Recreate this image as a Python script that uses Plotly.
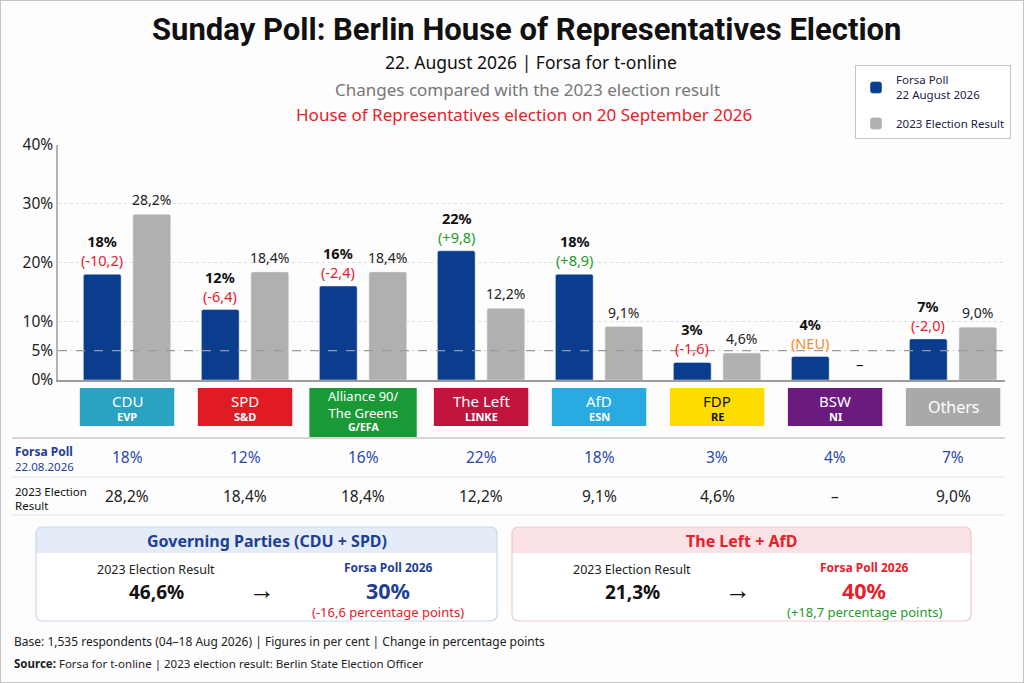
import plotly.graph_objects as go

W, H = 1024, 683

# data
parties = ["CDU", "SPD", "Alliance 90/<br>The Greens", "The Left", "AfD", "FDP", "BSW", "Others"]
eu_groups = ["EVP", "S&D", "G/EFA", "LINKE", "ESN", "RE", "NI", ""]
party_colors = ["#29a3bf", "#e01b24", "#1a9937", "#c0143f", "#29abe2", "#ffdc00", "#6b1a7e", "#a9a9a9"]
label_colors = ["white", "white", "white", "white", "white", "#111111", "white", "white"]
poll_2026 = [18, 12, 16, 22, 18, 3, 4, 7]
result_2023 = [28.2, 18.4, 18.4, 12.2, 9.1, 4.6, None, 9.0]
y_ticks = [0, 5, 10, 20, 30, 40]

BLUE = "#0b3d8f"
GREY = "#b0b0b0"
RED = "#e8202a"
GREEN = "#1f9a2e"
ORANGE = "#f28c28"
NAVY = "#1f3f94"
FONT = "Noto Sans"


def px(x):
    return x / W


def py(y):
    return 1 - y / H


def de(v):
    return f"{v:.1f}".replace(".", ",")


def rrect(x0, y0, x1, y1, r, top_only=False):
    # rounded rectangle in pixel coords -> svg path in paper coords
    rb = 0 if top_only else r
    pts = [
        ("M", [(x0 + r, y0)]),
        ("L", [(x1 - r, y0)]),
        ("Q", [(x1, y0), (x1, y0 + r)]),
        ("L", [(x1, y1 - rb)]),
        ("Q", [(x1, y1), (x1 - rb, y1)]),
        ("L", [(x0 + rb, y1)]),
        ("Q", [(x0, y1), (x0, y1 - rb)]),
        ("L", [(x0, y0 + r)]),
        ("Q", [(x0, y0), (x0 + r, y0)]),
    ]
    s = ""
    for cmd, ps in pts:
        s += cmd + " ".join(f"{px(a):.5f},{py(b):.5f}" for a, b in ps) + " "
    return s + "Z"


xs = list(range(len(parties)))

fig = go.Figure()
fig.add_trace(go.Bar(x=xs, y=poll_2026, width=0.32, offset=-0.37, marker_color=BLUE,
                     name="Forsa Poll<br>22 August 2026", legendgroup="a"))
fig.add_trace(go.Bar(x=xs, y=result_2023, width=0.32, offset=0.05, marker_color=GREY,
                     name="2023 Election Result", legendgroup="b"))

ann = []


def note(text, x, y, size, color="#222222", xanchor="center", yanchor="middle",
         xref="paper", yref="paper", family=FONT, **kw):
    ann.append(dict(text=text, x=x, y=y, xref=xref, yref=yref, showarrow=False,
                    xanchor=xanchor, yanchor=yanchor,
                    font=dict(size=size, color=color, family=family), **kw))


# titles
note("<b>Sunday Poll: Berlin House of Representatives Election</b>", px(527), py(30), 31,
     "#111111", family="Roboto")
note("22. August 2026 | Forsa for t-online", px(531), py(62), 17.5, "#111111")
note("Changes compared with the 2023 election result", px(527), py(89), 17, "#777777")
note("House of Representatives election on 20 September 2026", px(524), py(115), 17, RED)

shapes = []

# bar labels
for i in xs:
    p = poll_2026[i]
    r = result_2023[i]
    if r is None:
        chg, col = "(NEU)", ORANGE
    else:
        d = round(p - r, 1)
        chg = ("(+" if d > 0 else "(") + de(d) + ")"
        col = GREEN if d > 0 else RED
    note(f"<b>{p}%</b><br><span style='color:{col}'>{chg}</span>", i - 0.21, p, 14.5,
         "#111111", yanchor="bottom", xref="x", yref="y", yshift=2)
    if r is None:
        note("–", i + 0.21, 0, 15, "#111111", yanchor="bottom", xref="x", yref="y", yshift=4)
    else:
        note(de(r) + "%", i + 0.21, r, 14, "#222222", yanchor="bottom", xref="x", yref="y", yshift=3)

# party boxes under the axis
for i in xs:
    multi = "<br>" in parties[i]
    half = 0.455 if multi else 0.4
    bottom = 437 if multi else 426
    shapes.append(dict(type="rect", xref="x", yref="paper", x0=i - half, x1=i + half,
                       y0=py(bottom), y1=py(388), fillcolor=party_colors[i], line_width=0,
                       layer="above"))
    if not eu_groups[i]:
        note(parties[i], i, py(407), 16, label_colors[i], xref="x")
    elif multi:
        note(parties[i], i, py(404), 13, label_colors[i], xref="x")
        note(f"<b>{eu_groups[i]}</b>", i, py(427), 10.5, label_colors[i], xref="x")
    else:
        note(parties[i], i, py(401), 15, label_colors[i], xref="x")
        note(f"<b>{eu_groups[i]}</b>", i, py(416), 11, label_colors[i], xref="x")

# table rows
note("<b>Forsa Poll</b>", px(13), py(451), 12, NAVY, xanchor="left")
note("22.08.2026", px(13), py(466), 11.5, NAVY, xanchor="left")
note("2023 Election", px(13), py(491), 11.5, "#111111", xanchor="left")
note("Result", px(13), py(505), 11.5, "#111111", xanchor="left")
for i in xs:
    note(f"{poll_2026[i]}%", i, py(457), 15.5, "#2b4aa8", xref="x")
    r = result_2023[i]
    note("–" if r is None else de(r) + "%", i, py(496), 15.5, "#222222", xref="x")
for yy, c, w in [(438, "#c8c8c8", 1.5), (477, "#e6e6e6", 1), (515, "#e6e6e6", 1)]:
    shapes.append(dict(type="line", xref="paper", yref="paper", x0=px(12), x1=px(1005),
                       y0=py(yy), y1=py(yy), line=dict(color=c, width=w)))

# coalition summary boxes
combos = [
    dict(title="Governing Parties (CDU + SPD)", idx=[0, 1], x0=36, x1=497,
         band="#e4edf7", border="#c9d7ea", tcol=NAVY, pcol=NAVY),
    dict(title="The Left + AfD", idx=[3, 4], x0=512, x1=971,
         band="#fbe2e5", border="#f3c9cf", tcol=RED, pcol=RED),
]
for c in combos:
    old = round(sum(result_2023[k] for k in c["idx"]), 1)
    new = sum(poll_2026[k] for k in c["idx"])
    d = round(new - old, 1)
    x0, x1 = c["x0"], c["x1"]
    shapes.append(dict(type="path", path=rrect(x0, 527, x1, 621, 7), xref="paper", yref="paper",
                       fillcolor="white", line_width=0))
    shapes.append(dict(type="path", path=rrect(x0, 527, x1, 553, 7, top_only=True),
                       xref="paper", yref="paper", fillcolor=c["band"], line_width=0))
    shapes.append(dict(type="path", path=rrect(x0, 527, x1, 621, 7), xref="paper", yref="paper",
                       line=dict(color=c["border"], width=1.2)))
    note(f"<b>{c['title']}</b>", px((x0 + x1) / 2), py(541), 16, c["tcol"])
    note("2023 Election Result", px(x0 + 120), py(569), 12.5, "#222222")
    note(f"<b>{de(old)}%</b>", px(x0 + 120), py(592), 19, "#111111")
    note("<b>→</b>", px(x0 + 226), py(589), 26, "#111111")
    note("<b>Forsa Poll 2026</b>", px(x0 + 352), py(567), 12, c["pcol"])
    note(f"<b>{new}%</b>", px(x0 + 352), py(590), 21.5, c["pcol"])
    sign = "+" if d > 0 else ""
    note(f"({sign}{de(d)} percentage points)", px(x0 + 352), py(612), 13,
         GREEN if d > 0 else RED)

# footer
note("Base: 1,535 respondents (04–18 Aug 2026) | Figures in per cent | Change in percentage points",
     px(12), py(641), 12, "#222222", xanchor="left")
note("<b>Source:</b> Forsa for t-online | 2023 election result: Berlin State Election Officer",
     px(12), py(663), 11.5, "#222222", xanchor="left")

# 5% threshold line and frame
shapes.append(dict(type="line", xref="x domain", yref="y", x0=0, x1=1, y0=5, y1=5,
                   line=dict(color="#9a9a9a", width=1.3, dash="dash"), layer="above"))
shapes.append(dict(type="rect", xref="paper", yref="paper", x0=0, x1=1, y0=0, y1=1,
                   line=dict(color="#c4c4c4", width=2), fillcolor="rgba(0,0,0,0)"))

fig.update_layout(
    width=W, height=H,
    margin=dict(l=0, r=0, t=0, b=0),
    paper_bgcolor="#fdfdfd", plot_bgcolor="#fdfdfd",
    barmode="overlay", barcornerradius=2,
    font=dict(family=FONT, color="#222222"),
    showlegend=True,
    legend=dict(x=px(855), y=py(65), xanchor="left", yanchor="top",
                bgcolor="white", bordercolor="#c4c4c4", borderwidth=1,
                font=dict(size=11.5, color="#222244"), tracegroupgap=10),
    xaxis=dict(domain=[px(58), px(1005)], range=[-0.585, 7.44], showticklabels=False,
               showgrid=False, zeroline=False, showline=True, linecolor="#9c9c9c",
               linewidth=1.5, fixedrange=True, automargin=False),
    yaxis=dict(domain=[py(380), py(145)], range=[0, 40], tickvals=y_ticks,
               ticktext=[f"{v}%" for v in y_ticks], tickfont=dict(size=15.5, color="#222222"),
               showgrid=True, gridcolor="#dcdcdc", griddash="dot", zeroline=False,
               showline=True, linecolor="#b4b4b4", linewidth=1.5, fixedrange=True,
               automargin=False),
    shapes=shapes,
    annotations=ann,
)

fig.write_html("out.html", config={"responsive": False, "displayModeBar": False},
               post_script="document.body.style.margin='0';document.body.style.overflow='hidden';")
